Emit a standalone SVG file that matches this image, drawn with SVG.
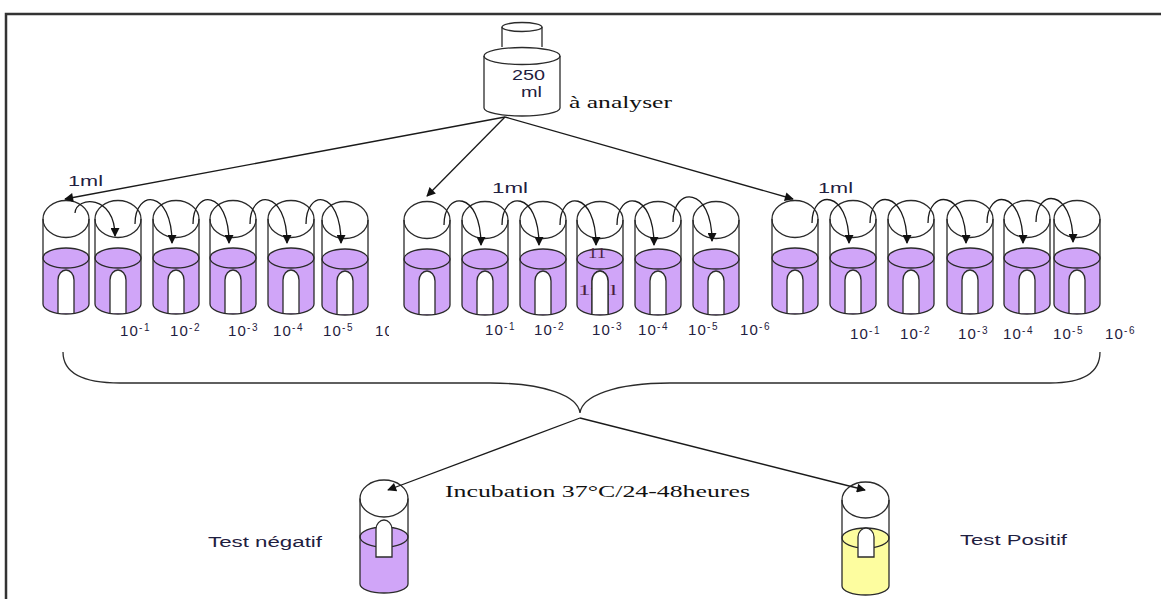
<svg xmlns="http://www.w3.org/2000/svg" xmlns:xlink="http://www.w3.org/1999/xlink" width="1161" height="599" viewBox="0 0 1161 599">
<style>
  .ln{fill:none;stroke:#2b2b2b;stroke-width:1.3}
  .liq{fill:#d0a5f8;stroke:none}
  .liqtop{fill:#d0a5f8;stroke:#2b2b2b;stroke-width:1.3}
  .yel{fill:#fdfd9f;stroke:none}
  .yeltop{fill:#fdfd9f;stroke:#2b2b2b;stroke-width:1.3}
  .pip{fill:#fff;stroke:#2b2b2b;stroke-width:1.3}
  .arr{fill:none;stroke:#1a1a1a;stroke-width:1.3;marker-end:url(#ah)}
  .sans{font-family:"Liberation Sans",Arial,sans-serif;fill:#1f2040}
  .serif{font-family:"Liberation Serif","Times New Roman",serif;fill:#111}
  .dil{font-family:"Liberation Sans",Arial,sans-serif;fill:#1f2040;font-size:15px;letter-spacing:1.2px}
  .sup{font-size:10px;letter-spacing:1.5px}
</style>
<defs>
  <marker id="ah" viewBox="0 0 10 10" refX="9" refY="5" markerWidth="11" markerHeight="9" markerUnits="userSpaceOnUse" orient="auto">
    <path d="M0,0 L10,5 L0,10 Z" fill="#111"/>
  </marker>
  <path id="pip" class="pip" d="M-8,94 V61 C-8,55 -4,51 0,51 C4,51 8,55 8,61 V94"/>
  <g id="tube">
    <path class="liq" d="M-23,39 V85 A23,10 0 0 0 23,85 V39 Z"/>
    <ellipse class="liqtop" cx="0" cy="39" rx="23" ry="10"/>
    <use xlink:href="#pip" href="#pip"/>
    <path class="ln" d="M-23,0 V85 A23,10 0 0 0 23,85 V0"/>
    <ellipse class="ln" cx="0" cy="0" rx="23" ry="18.5"/>
  </g>
  <clipPath id="clipL"><rect x="360" y="318" width="29" height="27"/></clipPath>
</defs>

<rect width="1161" height="599" fill="#fff"/>
<path d="M6,599 V14 H1161" fill="none" stroke="#333" stroke-width="2.5"/>

<g id="bottle">
  <path class="ln" d="M502,27 V47 M542,27 V47"/>
  <ellipse class="ln" cx="522" cy="27" rx="20" ry="4.5"/>
  <path class="ln" d="M484,56 V108 A38,8 0 0 0 560,108 V56"/>
  <ellipse class="ln" cx="522" cy="56" rx="38" ry="8.5"/>
  <text class="sans" x="512" y="80" font-size="14" textLength="33" lengthAdjust="spacingAndGlyphs">250</text>
  <text class="sans" x="521" y="97" font-size="14" textLength="21" lengthAdjust="spacingAndGlyphs">ml</text>
  <text class="serif" x="569" y="108" font-size="17" textLength="103" lengthAdjust="spacingAndGlyphs">à analyser</text>
</g>

<g id="group-left">
  <use xlink:href="#tube" href="#tube" x="66" y="219"/>
  <use xlink:href="#tube" href="#tube" x="118" y="219"/>
  <use xlink:href="#tube" href="#tube" x="176" y="219"/>
  <use xlink:href="#tube" href="#tube" x="233" y="219"/>
  <use xlink:href="#tube" href="#tube" x="291" y="219"/>
  <use xlink:href="#tube" href="#tube" x="345" y="220"/>
  <text class="sans" x="68" y="186" font-size="14" textLength="35" lengthAdjust="spacingAndGlyphs">1ml</text>
  <text class="dil" x="120" y="336">10<tspan class="sup" dy="-5">-1</tspan></text>
  <text class="dil" x="170" y="336">10<tspan class="sup" dy="-5">-2</tspan></text>
  <text class="dil" x="228" y="336">10<tspan class="sup" dy="-5">-3</tspan></text>
  <text class="dil" x="273" y="336">10<tspan class="sup" dy="-5">-4</tspan></text>
  <text class="dil" x="323" y="336">10<tspan class="sup" dy="-5">-5</tspan></text>
  <text class="dil" x="375" y="336" clip-path="url(#clipL)">10<tspan class="sup" dy="-5">-6</tspan></text>
</g>

<g id="group-middle">
  <use xlink:href="#tube" href="#tube" x="427" y="220"/>
  <use xlink:href="#tube" href="#tube" x="485" y="220"/>
  <use xlink:href="#tube" href="#tube" x="543" y="220"/>
  <use xlink:href="#tube" href="#tube" x="600" y="220"/>
  <use xlink:href="#tube" href="#tube" x="658" y="220"/>
  <use xlink:href="#tube" href="#tube" x="716" y="220"/>
  <text class="serif" x="588" y="258" font-size="14" style="fill:#4a1f3f" textLength="18" lengthAdjust="spacingAndGlyphs">11</text>
  <text class="serif" x="578" y="295" font-size="15" style="fill:#4a1f3f" textLength="39" lengthAdjust="spacingAndGlyphs">1ml</text>
  <use xlink:href="#pip" href="#pip" x="600" y="220"/>
  <text class="sans" x="492" y="193" font-size="14" textLength="36" lengthAdjust="spacingAndGlyphs">1ml</text>
  <text class="dil" x="485" y="335">10<tspan class="sup" dy="-5">-1</tspan></text>
  <text class="dil" x="534" y="335">10<tspan class="sup" dy="-5">-2</tspan></text>
  <text class="dil" x="592" y="335">10<tspan class="sup" dy="-5">-3</tspan></text>
  <text class="dil" x="638" y="335">10<tspan class="sup" dy="-5">-4</tspan></text>
  <text class="dil" x="688" y="335">10<tspan class="sup" dy="-5">-5</tspan></text>
  <text class="dil" x="740" y="335">10<tspan class="sup" dy="-5">-6</tspan></text>
</g>

<g id="group-right">
  <use xlink:href="#tube" href="#tube" x="795" y="219"/>
  <use xlink:href="#tube" href="#tube" x="853" y="219"/>
  <use xlink:href="#tube" href="#tube" x="911" y="219"/>
  <use xlink:href="#tube" href="#tube" x="970" y="219"/>
  <use xlink:href="#tube" href="#tube" x="1027" y="219"/>
  <use xlink:href="#tube" href="#tube" x="1077" y="219"/>
  <text class="sans" x="818" y="193" font-size="14" textLength="35" lengthAdjust="spacingAndGlyphs">1ml</text>
  <text class="dil" x="850" y="339">10<tspan class="sup" dy="-5">-1</tspan></text>
  <text class="dil" x="900" y="339">10<tspan class="sup" dy="-5">-2</tspan></text>
  <text class="dil" x="958" y="339">10<tspan class="sup" dy="-5">-3</tspan></text>
  <text class="dil" x="1003" y="339">10<tspan class="sup" dy="-5">-4</tspan></text>
  <text class="dil" x="1053" y="339">10<tspan class="sup" dy="-5">-5</tspan></text>
  <text class="dil" x="1105" y="339">10<tspan class="sup" dy="-5">-6</tspan></text>
</g>

<g id="tube-negative">
  <path class="liq" d="M360,537 V584 A24,9 0 0 0 408,584 V537 Z"/>
  <ellipse class="liqtop" cx="384" cy="537" rx="24" ry="10"/>
  <path class="pip" d="M376,557 V529 C376,524 380,520 384,520 C388,520 392,524 392,529 V557 Z"/>
  <path class="ln" d="M360,498.5 V584 A24,9 0 0 0 408,584 V498.5"/>
  <ellipse class="ln" cx="384" cy="498.5" rx="24" ry="18.5"/>
  <text class="sans" x="208" y="547" font-size="14" textLength="114" lengthAdjust="spacingAndGlyphs">Test négatif</text>
</g>

<g id="tube-positive">
  <path class="yel" d="M842,538 V586 A23.5,9 0 0 0 889,586 V538 Z"/>
  <ellipse class="yeltop" cx="865.5" cy="538" rx="23.5" ry="10"/>
  <path class="pip" d="M858,557 V537 C858,532 862,528 866,528 C870,528 874,532 874,537 V557 Z"/>
  <path class="ln" d="M842,500 V586 A23.5,9 0 0 0 889,586 V500"/>
  <ellipse class="ln" cx="865.5" cy="500" rx="23.5" ry="18"/>
  <text class="sans" x="960" y="545" font-size="14" textLength="107" lengthAdjust="spacingAndGlyphs">Test Positif</text>
</g>

<g id="incubation-label">
  <text class="serif" x="445" y="497" font-size="16" textLength="305" lengthAdjust="spacingAndGlyphs">Incubation 37°C/24-48heures</text>
</g>

<g id="connectors">
  <path class="arr" d="M505,117 L65,199"/>
  <path class="arr" d="M505,117 L427,196"/>
  <path class="arr" d="M505,117 L793,199"/>

  <path class="arr" d="M75,213 C76,196 115,194 115,236"/>
  <path class="arr" d="M135,224 C135,189 172,189 172,243"/>
  <path class="arr" d="M193,224 C193,189 229,189 229,243"/>
  <path class="arr" d="M250,224 C250,189 287,189 287,243"/>
  <path class="arr" d="M306,224 C306,189 341,189 341,243"/>

  <path class="arr" d="M444,225 C444,190 481,190 481,245"/>
  <path class="arr" d="M502,225 C502,190 539,190 539,245"/>
  <path class="arr" d="M560,225 C560,190 596,190 596,245"/>
  <path class="arr" d="M617,225 C617,190 654,190 654,245"/>
  <path class="arr" d="M673,222 C673,186 712,186 712,241"/>

  <path class="arr" d="M812,223 C812,189 849,189 849,243"/>
  <path class="arr" d="M870,223 C870,189 907,189 907,243"/>
  <path class="arr" d="M928,223 C928,189 966,189 966,243"/>
  <path class="arr" d="M987,223 C987,189 1023,189 1023,243"/>
  <path class="arr" d="M1036,222 C1036,188 1073,188 1073,242"/>

  <path class="ln" d="M63,352 C63,372 82,383 120,383 L490,383 C545,383 578,396 580,413 C582,396 615,383 670,383 L1050,383 C1085,383 1100,372 1100,352"/>

  <path class="arr" d="M580,418 L388,490"/>
  <path class="arr" d="M580,418 L865,490"/>
</g>
</svg>
